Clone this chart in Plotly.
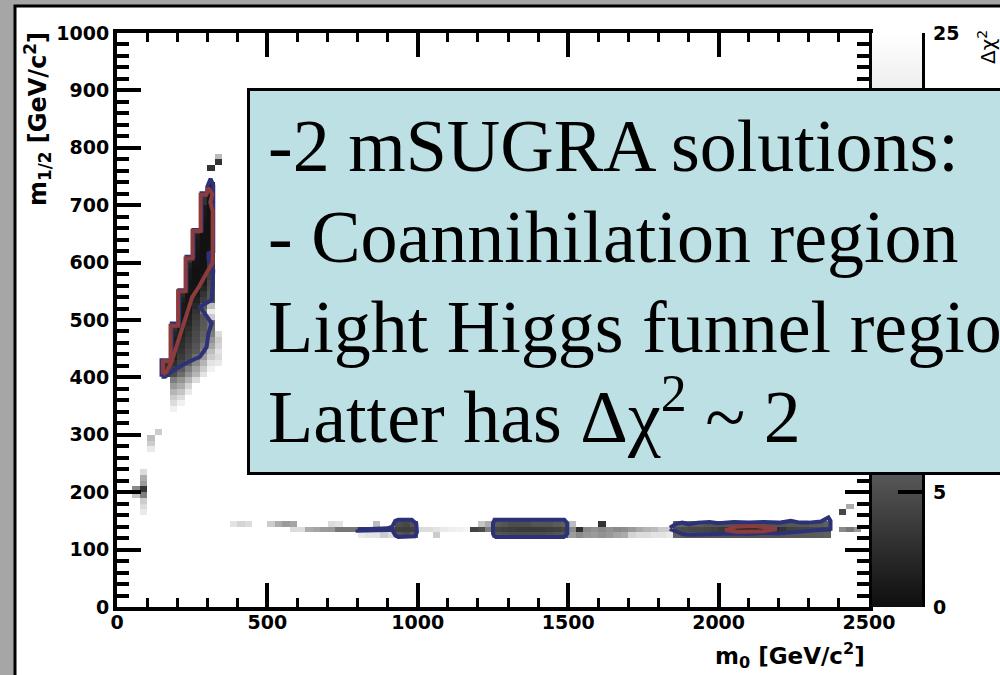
import plotly.graph_objects as go

# ---------------- data ----------------
M0_BIN = 25.0   # GeV bin width in m0
M12_BIN = 10.0  # GeV bin width in m1/2

# histogram rows: (m1/2 row lower edge, m0 of first cell, delta-chi2 values of consecutive cells)
row_m12 = [
    780, 770, 760, 730, 720, 710, 700, 690, 680, 670, 660, 650, 640, 630, 620, 610,
    600, 590, 580, 570, 560, 550, 540, 530, 520, 510, 500, 490, 480, 470, 460, 450,
    440, 430, 420, 410, 400, 390, 380, 370, 360, 350, 340,
    300, 290, 280, 270, 230, 220, 210, 200, 190, 180, 170, 160,
    140, 140, 140, 140, 140, 140, 140, 140, 140, 140,
    130, 130, 130, 130, 130, 130, 130, 130,
    120, 120, 120, 120, 120, 120,
    160, 170,
]
row_m0_start = [
    325, 325, 300, 300, 300, 275, 275, 275, 275, 275, 275, 250, 250, 250, 250, 250,
    225, 225, 225, 225, 225, 225, 200, 200, 200, 200, 200, 200, 175, 175, 175, 175,
    175, 175, 150, 150, 150, 175, 175, 175, 175, 175, 175,
    125, 100, 100, 100, 75, 75, 75, 50, 50, 75, 75, 75,
    375, 500, 700, 850, 925, 1200, 1250, 1500, 1600, 1850,
    575, 800, 1000, 1175, 1250, 1500, 1850, 2400,
    800, 925, 1050, 1250, 1500, 1850,
    2400, 2425,
]
row_dchi2 = [
    [15.8], [3.0], [3.0], [1.5], [0.8], [3.0, 0.5], [2.8, 0.4], [1.0, 0.4], [0.8, 0.4],
    [0.6, 0.3], [0.5, 0.3], [3.0, 0.4, 0.3], [1.2, 0.3, 0.3], [0.8, 0.3, 0.4],
    [0.7, 0.3, 0.6], [0.6, 0.3, 1.5],
    [3.0, 0.5, 0.3, 2.8], [1.5, 0.4, 0.4, 3.5], [1.0, 0.3, 0.5, 3.5], [0.8, 0.3, 0.8, 4.0],
    [0.6, 0.4, 1.2, 4.5], [0.6, 0.5, 2.0, 5.0],
    [2.5, 0.5, 0.8, 3.0, 5.5], [1.5, 0.6, 1.5, 3.8, 5.5], [1.0, 0.7, 2.2, 6.0, 16.0],
    [0.8, 1.0, 3.0, 8.0, 22.0], [0.7, 1.5, 3.5, 5.5, 18.0], [0.8, 2.0, 4.0, 5.8, 7.5],
    [2.8, 1.2, 2.5, 4.3, 6.0, 8.0], [1.8, 1.6, 3.0, 4.8, 6.5, 9.0, 20.0],
    [1.2, 2.2, 3.5, 5.0, 7.0, 11.0, 18.0], [1.0, 2.6, 4.0, 5.5, 8.0, 13.0, 19.0],
    [1.2, 3.0, 4.6, 6.0, 9.5, 16.0, 21.0], [1.6, 3.6, 5.0, 7.5, 12.0, 18.0, 20.0],
    [2.5, 2.5, 4.2, 6.5, 10.0, 15.0, 21.0, 22.0], [3.0, 3.8, 6.0, 9.0, 13.0, 18.0, 23.0],
    [3.5, 5.0, 7.5, 11.0, 15.0, 21.0],
    [9.0, 11.0, 15.0, 20.0], [12.0, 14.0, 19.0], [15.0, 17.0, 22.0], [18.0, 20.0],
    [20.0, 23.0], [23.0],
    [17.9], [16.0], [18.0], [22.0], [20.0], [14.0], [12.0], [10.0, 3.0], [17.0, 9.0],
    [18.0], [20.0], [22.0],
    [21.0, 19.0, 20.0], [18.0, 14.0, 12.0, 13.0], [20.0, 21.0], [16.0], [5.0, 4.5, 5.5],
    [17.0, 14.0], [6.0, 5.5, 5.0, 5.0, 5.0, 5.5, 5.5, 5.5, 6.0, 6.5], [16.0], [3.0],
    [7.0, 6.5, 6.0, 6.0, 5.8, 5.6, 5.5, 5.5, 5.5, 5.5, 5.5, 5.5, 5.5, 5.6, 5.6, 5.8, 5.8,
     5.8, 6.0, 6.0, 6.5],
    [20.0, 20.0, 14.0, 13.0, 12.0, 11.7, 8.5, 8.4, 8.4],
    [4.5, 4.5, 4.3, 4.3, 4.5, 4.0, 3.8, 4.0],
    [20.0, 20.0, 21.0, 22.0, 22.5, 23.0, 23.5],
    [4.3, 5.0, 9.0],
    [4.3, 4.0, 3.8, 3.6, 3.5, 3.5, 3.6, 3.8, 4.0, 4.3],
    [10.0, 2.8, 10.0, 11.0, 10.0, 11.0, 10.0, 10.5, 12.0, 13.7, 15.0, 15.8, 17.9, 18.0],
    [5.0, 4.8, 4.5, 4.5, 4.3, 4.0, 3.5, 2.0, 1.8, 1.6, 1.6, 1.8, 1.8, 2.0, 3.0, 4.0, 4.3,
     4.3, 4.5, 4.5, 4.8],
    [10.0, 8.5, 11.7],
    [22.0, 21.0, 21.0, 18.0, 20.0], [5.5, 5.0, 6.0], [18.0],
    [5.5, 5.3, 5.0, 5.0, 5.0, 5.0, 5.0, 5.2, 5.5, 5.8],
    [12.0, 10.0, 11.5, 12.0, 11.0, 11.7, 13.0, 14.0, 19.0, 20.0, 20.0, 21.0, 21.0, 22.0],
    [6.5, 6.0, 6.0, 5.8, 5.8, 5.6, 5.6, 5.5, 5.5, 5.5, 5.5, 5.5, 5.5, 5.6, 5.6, 5.8, 5.8,
     6.0, 6.0, 6.2, 6.5],
    [4.5], [14.0],
]

# 68% CL contour (red) and 95% CL contours (blue), in (m0, m1/2)
red_coann_m0 = [153, 153, 178, 178, 203, 203, 228, 228, 251, 251, 278, 278, 297, 303, 317, 310,
                318, 318, 300, 275, 250, 225, 200, 180, 165, 153]
red_coann_m12 = [405, 428, 428, 490, 490, 550, 550, 607, 607, 655, 655, 718, 718, 730, 720, 705,
                 690, 600, 584, 560, 540, 500, 455, 425, 410, 405]
red_funnel_m0 = [2021, 2060, 2120, 2194, 2150, 2060, 2021]
red_funnel_m12 = [134, 140, 141, 136, 132, 131, 134]

blue_coann_m0 = [148, 160, 190, 230, 276, 298, 304, 315, 276, 315, 320, 304, 304, 320, 320, 311,
                 300, 300, 281, 281, 254, 254, 231, 231, 207, 207, 182, 182, 148, 148]
blue_coann_m12 = [401, 401, 413, 425, 436, 453, 477, 494, 523, 535, 587, 605, 616, 619, 735, 746,
                  732, 721, 721, 657, 657, 610, 610, 552, 552, 494, 494, 430, 430, 401]
blue_a_m0 = [800, 900, 915, 925, 935, 980, 995, 997, 990, 935, 925, 915, 900, 800, 800]
blue_a_m12 = [135, 137, 140, 150, 152, 152, 145, 130, 123, 122, 125, 134, 134, 133, 135]
blue_b_m0 = [1255, 1485, 1497, 1497, 1487, 1255, 1250, 1250, 1255]
blue_b_m12 = [122, 122, 128, 146, 152, 152, 146, 128, 122]
blue_c_m0 = [1838, 1860, 1880, 1900, 1930, 1970, 2000, 2050, 2100, 2150, 2200, 2240, 2270, 2300,
             2340, 2365, 2372, 2372, 2330, 2300, 2250, 2200, 2150, 2100, 2050, 2000, 1950, 1920,
             1900, 1880, 1860, 1838]
blue_c_m12 = [138, 145, 147, 144, 147, 148, 146, 148, 147, 148, 147, 150, 147, 147, 149, 156, 150,
              136, 134, 133, 130, 128, 129, 127, 128, 127, 127, 125, 126, 127, 131, 136]

cbar_ticks = [0, 5, 10, 15, 20, 25]
cbar_labels = ["0", "5", "10", "15", "20", "25"]
x_ticks = [0, 500, 1000, 1500, 2000, 2500]
y_ticks = [0, 100, 200, 300, 400, 500, 600, 700, 800, 900, 1000]

box_lines = ["-2 mSUGRA solutions:", "- Coannihilation region",
             "Light Higgs funnel region", "Latter has \u0394\u03c7<sup>2</sup> ~ 2"]

# ---------------- build histogram grid ----------------
NX, NY = 100, 100
z = [[None] * NX for _ in range(NY)]
for m12, m0s, vals in zip(row_m12, row_m0_start, row_dchi2):
    j = int(round(m12 / M12_BIN))
    i0 = int(round(m0s / M0_BIN))
    for k, v in enumerate(vals):
        z[j][i0 + k] = v
xc = [M0_BIN * i + M0_BIN / 2 for i in range(NX)]
yc = [M12_BIN * j + M12_BIN / 2 for j in range(NY)]

# ---------------- pixel helpers (layout) ----------------
W, H = 1000, 675
L, R, T, B = 117, 869, 33, 607


def px(xp):
    return (xp - L) / (R - L)


def py(yp):
    return (B - yp) / (B - T)


grey = [[0.0, "#0e0e0e"], [0.092, "#2a2a2a"], [0.24, "#5a5a5a"], [0.4, "#8a8a8a"],
        [0.6, "#b5b5b5"], [0.8, "#dcdcdc"], [1.0, "#ffffff"]]

axfont = dict(family="DejaVu Sans", size=19, color="black", weight="bold")

fig = go.Figure()
fig.add_trace(go.Heatmap(
    x=xc, y=yc, z=z, zmin=0, zmax=25, colorscale=grey, hoverinfo="skip",
    colorbar=dict(x=px(872), xanchor="left", xpad=0, y=0.5, yanchor="middle",
                  len=1, lenmode="fraction", ypad=0, thickness=50, thicknessmode="pixels",
                  outlinewidth=0, tickvals=cbar_ticks,
                  ticktext=["&nbsp;" + t for t in cbar_labels],
                  ticks="inside", ticklen=24, tickwidth=4, tickcolor="black",
                  tickfont=axfont),
))

RED = "#8c3c3c"
BLUE = "#2d3278"
for xs, ys, col in [
    (blue_coann_m0, blue_coann_m12, BLUE), (blue_a_m0, blue_a_m12, BLUE),
    (blue_b_m0, blue_b_m12, BLUE), (blue_c_m0, blue_c_m12, BLUE),
    (red_coann_m0, red_coann_m12, RED), (red_funnel_m0, red_funnel_m12, RED),
]:
    fig.add_trace(go.Scatter(x=xs, y=ys, mode="lines", line=dict(color=col, width=4),
                             hoverinfo="skip", showlegend=False))

annotations = []
# text box
annotations.append(dict(xref="paper", yref="paper", x=px(247), y=py(88), xanchor="left",
                        yanchor="top", text=" ", showarrow=False, width=800, height=381,
                        bgcolor="#bce0e3", bordercolor="black", borderwidth=3, borderpad=0))
baselines = [172, 263, 353, 443]
for txt, bl in zip(box_lines, baselines):
    annotations.append(dict(xref="paper", yref="paper", x=px(266), y=py(bl + 17),
                            xanchor="left", yanchor="bottom", text=txt, showarrow=False,
                            font=dict(family="Liberation Serif", size=74, color="black")))
# axis titles
annotations.append(dict(xref="paper", yref="paper", x=px(867), y=py(655), xanchor="right",
                        yanchor="middle", showarrow=False,
                        text="m<sub>0</sub> [GeV/c<sup>2</sup>]",
                        font=dict(family="DejaVu Sans", size=23, color="black", weight="bold")))
annotations.append(dict(xref="paper", yref="paper", x=px(38), y=py(30), xanchor="center",
                        yanchor="top", showarrow=False, textangle=-90,
                        text="m<sub>1/2</sub> [GeV/c<sup>2</sup>]",
                        font=dict(family="DejaVu Sans", size=24, color="black", weight="bold")))
annotations.append(dict(xref="paper", yref="paper", x=px(987), y=py(28), xanchor="center",
                        yanchor="top", showarrow=False, textangle=-90,
                        text="\u0394\u03c7<sup>2</sup>",
                        font=dict(family="DejaVu Sans", size=20, color="black")))

shapes = [dict(type="rect", xref="paper", yref="paper", x0=px(15), x1=px(1010),
               y0=py(690), y1=py(6), fillcolor="white",
               line=dict(color="black", width=3), layer="below"),
          dict(type="line", xref="paper", yref="paper", x0=px(923), x1=px(923),
               y0=0, y1=1, line=dict(color="black", width=4), layer="above")]

common_ax = dict(showline=True, linewidth=4, linecolor="black", mirror="allticks",
                 ticks="inside", tickwidth=4, tickcolor="black", showgrid=False,
                 zeroline=False, tickfont=axfont, fixedrange=True)

fig.update_layout(
    width=W, height=H, autosize=False,
    margin=dict(l=L, r=W - R, t=T, b=H - B, pad=0),
    paper_bgcolor="#a6a6a6", plot_bgcolor="white",
    xaxis=dict(range=[0, 2500], tickvals=x_ticks, ticklen=24, ticklabelstandoff=-5,
               minor=dict(dtick=100, ticks="inside", ticklen=9, tickwidth=3,
                          tickcolor="black", showgrid=False), **common_ax),
    yaxis=dict(range=[0, 1000], tickvals=y_ticks, ticklen=24,
               minor=dict(dtick=20, ticks="inside", ticklen=12, tickwidth=4,
                          tickcolor="black", showgrid=False), **common_ax),
    annotations=annotations, shapes=shapes, showlegend=False,
)

fig.write_html("out.html")
